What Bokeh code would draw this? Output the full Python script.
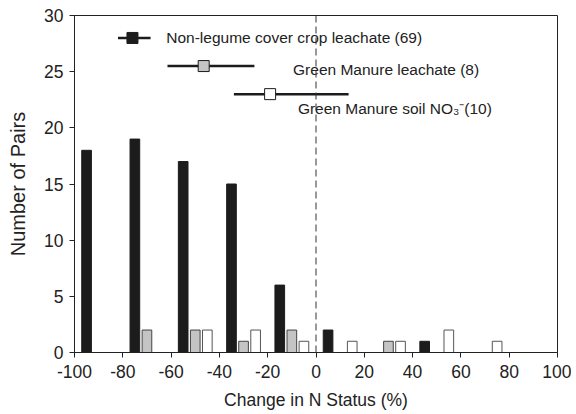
from bokeh.plotting import figure
from bokeh.models import Span, Range1d, FixedTicker
from bokeh.core.properties import value
from bokeh.embed import file_html
from bokeh.resources import INLINE

# Histogram data (bin centre in %, number of pairs)
black_x = [-95, -75, -55, -35, -15, 5, 45]
black_y = [18, 19, 17, 15, 6, 2, 1]
gray_x = [-70, -50, -30, -10, 30]
gray_y = [2, 2, 1, 2, 1]
white_x = [-45, -25, -5, 15, 35, 55, 75]
white_y = [2, 2, 1, 1, 1, 2, 1]

# Mean effect with confidence interval
series_names = ["Non-legume cover crop leachate (69)", "Green Manure leachate (8)", "Green Manure soil NO\u2083\u207b(10)"]
means = [-76, -46.5, -19]
lows = [-82, -61.5, -34]
highs = [-68.5, -25.5, 13.5]
ci_y = [28, 25.5, 23]
label_x = [-62, -9.5, -7.5]
label_y = [28, 25.2, 21.7]

x_ticks = list(range(-100, 101, 20))
x_tick_labels = {t: str(t) for t in x_ticks}
y_ticks = list(range(0, 31, 5))

FONT = "Liberation Sans"

p = figure(frame_width=483, frame_height=337, output_backend="svg", toolbar_location=None,
           x_range=Range1d(-100, 100), y_range=Range1d(0, 30),
           min_border_left=74, min_border_right=14, min_border_top=15, min_border_bottom=56)

p.xgrid.visible = False
p.ygrid.visible = False
p.outline_line_color = "#222222"
p.outline_line_width = 1
p.background_fill_color = "white"
p.border_fill_color = "white"

bw = 4
p.vbar(x=black_x, top=black_y, width=bw, bottom=0, fill_color="#1c1c1c", line_color="#1c1c1c")
p.vbar(x=gray_x, top=gray_y, width=bw, bottom=0, fill_color="#c4c4c4", line_color="#444444")
p.vbar(x=white_x, top=white_y, width=bw, bottom=0, fill_color="white", line_color="#555555")

p.add_layout(Span(location=0, dimension="height", line_color="#333333", line_width=1, line_dash="7 4"))

fills = ["#1c1c1c", "#c4c4c4", "white"]
for i in range(3):
    p.segment(x0=[lows[i]], y0=[ci_y[i]], x1=[highs[i]], y1=[ci_y[i]], line_color="#1c1c1c", line_width=2.5)
    p.scatter(x=[means[i]], y=[ci_y[i]], marker="square", size=11, fill_color=fills[i], line_color="#1c1c1c", line_width=1)

p.text(x=label_x, y=label_y, text=series_names, text_font=value(FONT), text_font_size="15.5px",
       text_color="#222222", text_baseline="middle", text_align="left")

p.xaxis.ticker = FixedTicker(ticks=x_ticks)
p.xaxis.major_label_overrides = x_tick_labels
p.yaxis.ticker = FixedTicker(ticks=y_ticks)
for ax in (p.xaxis[0], p.yaxis[0]):
    ax.major_label_text_font = FONT
    ax.major_label_text_font_size = "17.5px"
    ax.major_label_text_color = "#222222"
    ax.axis_label_text_font = FONT
    ax.axis_label_text_font_size = "17.5px"
    ax.axis_label_text_font_style = "normal"
    ax.axis_label_text_color = "#222222"
    ax.axis_line_color = "#222222"
    ax.major_tick_line_color = "#222222"
    ax.major_tick_out = 5
    ax.major_tick_in = 0
    ax.minor_tick_line_color = None
p.xaxis.axis_label = "Change in N Status (%)"
p.yaxis.axis_label = "Number of Pairs"
p.yaxis.axis_label_text_font_size = "20px"
p.xaxis.major_label_standoff = 7
p.xaxis.axis_label_standoff = 9
p.yaxis.major_label_standoff = 6
p.yaxis.axis_label_standoff = 12

open("out.html", "w").write(file_html(p, INLINE))
